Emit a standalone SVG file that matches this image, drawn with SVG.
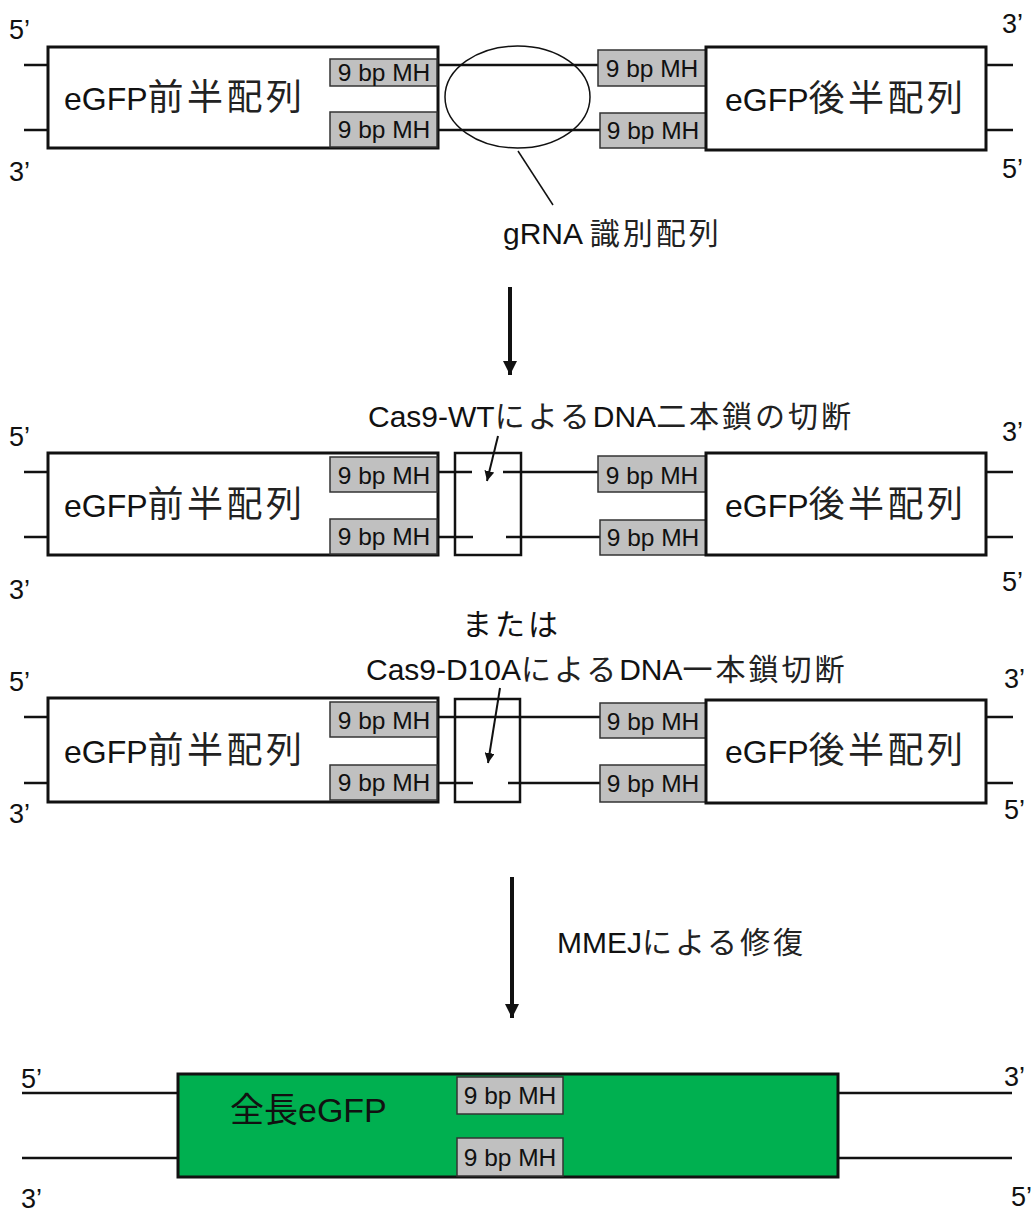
<svg xmlns="http://www.w3.org/2000/svg" width="1033" height="1212" viewBox="0 0 1033 1212">
<style>
text{font-family:"Liberation Sans","Noto Sans CJK JP",sans-serif;fill:#111}
.end{font-size:27px}
.mh{font-size:24.5px;text-anchor:middle}
.big{font-size:32px}
.cap{font-size:30px}
.cjk{font-size:36px;letter-spacing:3.5px;fill:#222}
.cj2{letter-spacing:3px;fill:#222}
.box{fill:#fff;stroke:#111;stroke-width:3}
.mhb{fill:#c0c0c0;stroke:#333;stroke-width:1.5}
.cut{fill:none;stroke:#111;stroke-width:2.5}
.str{stroke:#111;stroke-width:2.5;fill:none}
.thin{stroke:#111;stroke-width:1.5;fill:none}
</style>
<defs>
<marker id="ah" viewBox="0 0 10 10" refX="10" refY="5" markerWidth="10" markerHeight="10" markerUnits="userSpaceOnUse" orient="auto"><path d="M0,0 L10,5 L0,10 z" fill="#111"/></marker>
<marker id="bh" viewBox="0 0 10 10" refX="10" refY="5" markerWidth="14" markerHeight="14" markerUnits="userSpaceOnUse" orient="auto"><path d="M0,0 L10,5 L0,10 z" fill="#111"/></marker>
</defs>

<g id="connectors">
<path class="str" d="M24,65H48M24,130H48M438,65H598M438,130H600M986,65H1013M986,130H1013"/>
<path class="str" d="M24,472H48M24,537H48M438,472H472M503,472H598M438,537H473M506,537H600M986,472H1013M986,537H1013"/>
<path class="str" d="M24,717H48M24,783H48M438,717H600M438,783H473M508,783H600M986,717H1013M986,783H1013"/>
<path class="str" d="M22,1093H178M22,1158H178M838,1093H1012M838,1158H1012"/>
<line class="thin" x1="518" y1="151" x2="553" y2="205"/>
<line x1="510" y1="287" x2="510" y2="375" stroke="#111" stroke-width="4" marker-end="url(#bh)"/>
<line x1="512" y1="877" x2="512" y2="1018" stroke="#111" stroke-width="4" marker-end="url(#bh)"/>
<line x1="498" y1="436" x2="487" y2="481" stroke="#111" stroke-width="2" marker-end="url(#ah)"/>
<line x1="500" y1="688" x2="488" y2="763" stroke="#111" stroke-width="2" marker-end="url(#ah)"/>
</g>

<g id="row1">
<g id="r1-left">
<rect class="box" x="48" y="47" width="390" height="101"/>
<rect class="mhb" x="330" y="59" width="107" height="27"/>
<rect class="mhb" x="330" y="112" width="107" height="35"/>
<text class="mh" x="384" y="81">9 bp MH</text>
<text class="mh" x="384" y="138">9 bp MH</text>
<text class="big" x="64" y="110">eGFP<tspan class="cjk">前半配列</tspan></text>
</g>
<g id="r1-grna">
<ellipse cx="517.5" cy="97" rx="72.5" ry="51" class="thin"/>
<text class="cap" x="503" y="244">gRNA <tspan class="cj2" letter-spacing="5">識別配列</tspan></text>
</g>
<g id="r1-right">
<rect class="mhb" x="598" y="50" width="108" height="36"/>
<rect class="mhb" x="600" y="113" width="106" height="35"/>
<text class="mh" x="652" y="77">9 bp MH</text>
<text class="mh" x="653" y="139">9 bp MH</text>
<rect class="box" x="706" y="47" width="280" height="103"/>
<text class="big" x="725" y="111">eGFP<tspan class="cjk">後半配列</tspan></text>
</g>
<text class="end" x="9" y="39">5’</text>
<text class="end" x="9" y="181">3’</text>
<text class="end" x="1002" y="33">3’</text>
<text class="end" x="1002" y="178">5’</text>
</g>

<g id="row2">
<text class="cap" x="368" y="427">Cas9-WT<tspan class="cj2">による</tspan>DNA<tspan class="cj2">二本鎖の切断</tspan></text>
<g id="r2-left">
<rect class="box" x="48" y="453" width="390" height="102"/>
<rect class="mhb" x="330" y="457" width="107" height="35"/>
<rect class="mhb" x="330" y="519" width="107" height="35"/>
<text class="mh" x="384" y="484">9 bp MH</text>
<text class="mh" x="384" y="545">9 bp MH</text>
<text class="big" x="64" y="517">eGFP<tspan class="cjk">前半配列</tspan></text>
</g>
<rect id="r2-cut" class="cut" x="455" y="453" width="66" height="102"/>
<g id="r2-right">
<rect class="mhb" x="598" y="456" width="108" height="36"/>
<rect class="mhb" x="600" y="520" width="106" height="35"/>
<text class="mh" x="652" y="484">9 bp MH</text>
<text class="mh" x="653" y="546">9 bp MH</text>
<rect class="box" x="706" y="453" width="280" height="102"/>
<text class="big" x="725" y="517">eGFP<tspan class="cjk">後半配列</tspan></text>
</g>
<text class="end" x="9" y="446">5’</text>
<text class="end" x="9" y="599">3’</text>
<text class="end" x="1002" y="441">3’</text>
<text class="end" x="1002" y="591">5’</text>
</g>

<text class="cap" x="462" y="635" letter-spacing="3" fill="#222">または</text>

<g id="row3">
<text class="cap" x="366" y="680">Cas9-D10A<tspan class="cj2">による</tspan>DNA<tspan class="cj2">一本鎖切断</tspan></text>
<g id="r3-left">
<rect class="box" x="48" y="698" width="390" height="104"/>
<rect class="mhb" x="330" y="702" width="107" height="35"/>
<rect class="mhb" x="330" y="765" width="107" height="35"/>
<text class="mh" x="384" y="729">9 bp MH</text>
<text class="mh" x="384" y="791">9 bp MH</text>
<text class="big" x="64" y="763">eGFP<tspan class="cjk">前半配列</tspan></text>
</g>
<rect id="r3-cut" class="cut" x="455" y="699" width="65" height="103"/>
<g id="r3-right">
<rect class="mhb" x="600" y="703" width="106" height="35"/>
<rect class="mhb" x="600" y="765" width="106" height="37"/>
<text class="mh" x="653" y="730">9 bp MH</text>
<text class="mh" x="653" y="792">9 bp MH</text>
<rect class="box" x="706" y="700" width="280" height="103"/>
<text class="big" x="725" y="763">eGFP<tspan class="cjk">後半配列</tspan></text>
</g>
<text class="end" x="9" y="691">5’</text>
<text class="end" x="9" y="823">3’</text>
<text class="end" x="1004" y="688">3’</text>
<text class="end" x="1004" y="819">5’</text>
</g>

<text class="cap" x="557" y="953">MMEJ<tspan class="cj2" letter-spacing="4">による修復</tspan></text>

<g id="row4">
<rect x="178" y="1074" width="660" height="103" fill="#00b050" stroke="#111" stroke-width="3"/>
<rect class="mhb" x="457" y="1077" width="106" height="37"/>
<rect class="mhb" x="457" y="1138" width="106" height="38"/>
<text class="mh" x="510" y="1104">9 bp MH</text>
<text class="mh" x="510" y="1166">9 bp MH</text>
<text x="230" y="1122" font-size="34" fill="#0a2a12">全長eGFP</text>
<text class="end" x="21" y="1088">5’</text>
<text class="end" x="21" y="1208">3’</text>
<text class="end" x="1004" y="1086">3’</text>
<text class="end" x="1011" y="1206">5’</text>
</g>
</svg>
